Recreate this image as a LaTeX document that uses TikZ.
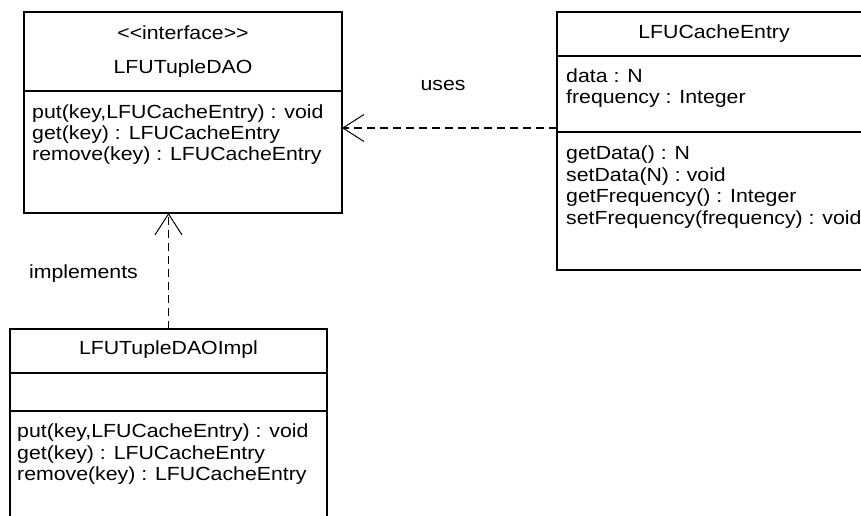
\documentclass[tikz,border=0pt]{standalone}
\usepackage{fontspec}
\newfontfamily\umlfont[FakeStretch=1.12]{Liberation Sans}
\usetikzlibrary{arrows.meta}
\begin{document}
\begin{tikzpicture}[x=1pt,y=-1pt,
  classbox/.style={draw, line width=1.2pt, inner sep=0pt, outer sep=0pt, anchor=north west},
  member/.style={anchor=west, inner sep=0pt, font=\umlfont\fontsize{19}{21}\selectfont,
                 text height=16pt, text depth=3pt},
  heading/.style={member, anchor=center},
  divider/.style={line width=1.2pt},
  linklabel/.style={heading},
  dep/.style={line width=1.1pt, dash pattern=on 8pt off 5pt,
              -{Straight Barb[length=21pt,width=27pt,line width=1pt]}}]
\useasboundingbox (0,0) rectangle (861,516);
\fill[white] (0,0) rectangle (861,516);

% interface LFUTupleDAO
\node[classbox, minimum width=318pt, minimum height=201pt] (dao) at (24,12) {};
\draw[divider] (dao.west |- 0,91) -- (dao.east |- 0,91);
\node[heading] (daoStereo) at (183,33) {<\kern0pt<interface>\kern0pt>};
\node[heading] (daoName) at (183,67) {LFUTupleDAO};
\node[member] (daoPut) at (32,112) {put(key,LFUCacheEntry) : void};
\node[member] (daoGet) at (32,133) {get(key) : LFUCacheEntry};
\node[member] (daoRemove) at (32,154) {remove(key) : LFUCacheEntry};

% class LFUCacheEntry
\node[classbox, minimum width=314pt, minimum height=258pt] (cache) at (557,12) {};
\draw[divider] (cache.west |- 0,56) -- (cache.east |- 0,56);
\draw[divider] (cache.west |- 0,132) -- (cache.east |- 0,132);
\node[heading] (cacheName) at (714,32) {LFUCacheEntry};
\node[member] (cacheData) at (566,76) {data : N};
\node[member] (cacheFreq) at (566,97) {frequency : Integer};
\node[member] (cacheGetData) at (566,153) {getData() : N};
\node[member] (cacheSetData) at (566,174.5) {setData(N) : void};
\node[member] (cacheGetFreq) at (566,196) {getFrequency() : Integer};
\node[member] (cacheSetFreq) at (566,217.5) {setFrequency(frequency) : void};

% class LFUTupleDAOImpl
\node[classbox, minimum width=317pt, minimum height=210pt] (impl) at (10,329) {};
\draw[divider] (impl.west |- 0,373) -- (impl.east |- 0,373);
\draw[divider] (impl.west |- 0,411) -- (impl.east |- 0,411);
\node[heading] (implName) at (168.5,348) {LFUTupleDAOImpl};
\node[member] (implPut) at (17,431) {put(key,LFUCacheEntry) : void};
\node[member] (implGet) at (17,452.5) {get(key) : LFUCacheEntry};
\node[member] (implRemove) at (17,474) {remove(key) : LFUCacheEntry};

% relations
\draw[dep] (cache.west |- 0,128) -- (dao.east |- 0,128);
\node[linklabel] (usesLabel) at (443,84) {uses};
\draw[dep] (impl.north) -- (impl.north |- dao.south);
\node[linklabel] (implLabel) at (83.5,272) {implements};
\end{tikzpicture}
\end{document}
